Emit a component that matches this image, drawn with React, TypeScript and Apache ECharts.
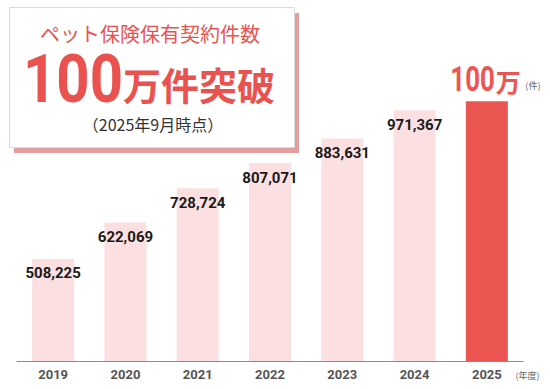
import React, { useEffect, useRef } from 'react';
import * as echarts from 'echarts';

const years = ['2019', '2020', '2021', '2022', '2023', '2024', '2025'];
const contracts = [508225, 622069, 728724, 807071, 883631, 971367, 1000000];
const yearUnit = '(年度)';
const countUnit = '(件)';
const manUnit = '万';
const headline = 'ペット保険保有契約件数';
const bigNumber = '100';
const bigSuffix = '万件突破';
const asOf = '（2025年9月時点）';

const PINK = '#fce0e1';
const RED = '#ec5652';
const NUM = "Roboto, 'DejaVu Sans', sans-serif";
const JP = "'Noto Sans CJK JP', 'Noto Sans', sans-serif";

export default function App() {
  const ref = useRef<HTMLDivElement>(null);
  useEffect(() => {
    document.body.style.margin = '0';
    if (!ref.current) return;
    const chart = echarts.init(ref.current, null, { renderer: 'svg' });
    const last = contracts.length - 1;
    const data = contracts.map((v, i) => ({
      value: v,
      itemStyle: { color: i === last ? RED : PINK },
      label: { show: i !== last },
    }));

    chart.setOption({
      animation: false,
      grid: { left: 17, right: 27, top: 53, bottom: 28 },
      xAxis: {
        type: 'category',
        data: years,
        axisLine: { lineStyle: { color: '#8a8a8a', width: 1.2 } },
        axisTick: { show: false },
        axisLabel: { color: '#555', fontFamily: NUM, fontWeight: 'bold', fontSize: 13, margin: 7 },
      },
      yAxis: { type: 'value', min: 190000, max: 1150000, show: false, splitLine: { show: false } },
      series: [
        {
          type: 'bar',
          barWidth: 42,
          data,
          label: {
            show: true,
            position: 'insideTop',
            distance: 7,
            color: '#1a1a1a',
            fontFamily: NUM,
            fontWeight: 'bold',
            fontSize: 15,
            formatter: (p: any) => Number(p.value).toLocaleString('en-US'),
          },
        },
      ],
    });

    const top = chart.convertToPixel({ seriesIndex: 0 }, [last, contracts[last]]) as number[];
    const px = top[0];
    const py = top[1];

    chart.setOption({
      graphic: [
        { type: 'rect', shape: { x: 14, y: 13, width: 285, height: 140 }, style: { fill: '#e39e9e' }, z: 10 },
        { type: 'rect', shape: { x: 9.5, y: 7.5, width: 285, height: 140 }, style: { fill: '#fff', stroke: '#dcdcdc', lineWidth: 1 }, z: 11 },
        { type: 'text', x: 150, y: 33, z: 12, style: { text: headline, fontFamily: JP, fontSize: 20, fill: '#e9524f', align: 'center', verticalAlign: 'middle' } },
        { type: 'text', x: 123, y: 79, scaleX: 0.88, z: 12, style: { text: bigNumber, fontFamily: 'Roboto', fontWeight: 'bold', fontSize: 66, fill: '#e9524f', align: 'right', verticalAlign: 'middle' } },
        { type: 'text', x: 123, y: 83.5, z: 12, style: { text: bigSuffix, fontFamily: JP, fontWeight: 'bold', fontSize: 38, fill: '#e9524f', align: 'left', verticalAlign: 'middle' } },
        { type: 'text', x: 153, y: 124, z: 12, style: { text: asOf, fontFamily: JP, fontSize: 16, fill: '#333', align: 'center', verticalAlign: 'middle' } },
        { type: 'text', x: 527.5, y: 375, z: 12, style: { text: yearUnit, fontFamily: JP, fontSize: 9, fill: '#666', align: 'center', verticalAlign: 'middle' } },
        { type: 'text', x: px + 8, y: py - 22, scaleX: 0.74, z: 12, style: { text: String(contracts[last] / 10000), fontFamily: 'Roboto', fontWeight: 'bold', fontSize: 35, fill: RED, align: 'right', verticalAlign: 'middle' } },
        { type: 'text', x: px + 9, y: py - 20, z: 12, style: { text: manUnit, fontFamily: JP, fontWeight: 'bold', fontSize: 25, fill: RED, align: 'left', verticalAlign: 'middle' } },
        { type: 'text', x: px + 38.5, y: py - 15.5, z: 12, style: { text: countUnit, fontFamily: JP, fontSize: 9, fill: '#666', align: 'left', verticalAlign: 'middle' } },
      ],
    });
    return () => chart.dispose();
  }, []);
  return <div ref={ref} style={{ width: 550, height: 389 }} />;
}
